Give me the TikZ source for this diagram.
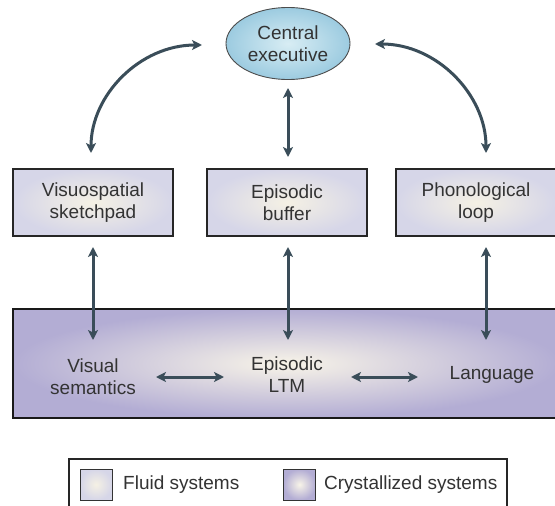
\documentclass[tikz,border=0pt]{standalone}
\usepackage{fontspec}
\setmainfont{Liberation Sans}
\usetikzlibrary{arrows.meta,shapes.geometric}
\definecolor{arrc}{HTML}{3A4D59}
\definecolor{txtc}{HTML}{333333}
\definecolor{fluidout}{HTML}{D6D6E8}
\definecolor{fluidin}{HTML}{F5F1E4}
\definecolor{crysout}{HTML}{B3ADD4}
\definecolor{crysin}{HTML}{F8F4E8}
\definecolor{ceout}{HTML}{9CCBE0}
\definecolor{cein}{HTML}{D8EDF4}
\tikzset{
  lbl/.style={text=txtc, font=\fontsize{19}{22}\selectfont, align=center},
  fluidbox/.style={lbl, draw=black!85, line width=1.4pt, shade, inner color=fluidin, outer color=fluidout,
    minimum width=160pt, minimum height=67pt, inner sep=0pt},
  crysbox/.style={draw=black!90, line width=2.2pt, shade, inner color=crysin, outer color=crysout,
    minimum width=547pt, minimum height=109pt, inner sep=0pt},
  cebox/.style={lbl, ellipse, draw=black!70, line width=0.9pt, shade, inner color=cein, outer color=ceout,
    minimum width=124pt, minimum height=72pt, inner sep=0pt},
  dbl/.style={arrc, line width=3pt, {Stealth[length=10pt,width=10pt,inset=2.5pt]}-{Stealth[length=10pt,width=10pt,inset=2.5pt]}},
  legsw/.style={draw=black!80, line width=1pt, shade, minimum width=32pt, minimum height=31pt, inner sep=0pt},
}
\begin{document}
\begin{tikzpicture}[x=1pt,y=-1pt]
\useasboundingbox (0,0) rectangle (555,506);
\clip (0,0) rectangle (555,506);
\fill[white] (0,0) rectangle (555,506);

% central executive
\node[cebox] (ce) at (288,43.5) {Central\\executive};

% fluid boxes
\node[fluidbox] (vs) at (93,202.5) {Visuospatial\\sketchpad};
\node[fluidbox] (eb) at (287,202.5) {Episodic\\buffer};
\node[fluidbox] (pl) at (476,202.5) {Phonological\\loop};

% crystallized box
\node[crysbox] (ltm) at (286.5,363.5) {};
\node[lbl] (vsem) at (93,377) {Visual\\semantics};
\node[lbl] (eltm) at (287,375) {Episodic\\LTM};
\node[lbl] (lang) at (492,375) {Language};

% arrow end points
\coordinate (c1) at (202,45);
\coordinate (c2) at (91,153);
\coordinate (c3) at (375,44);
\coordinate (c4) at (486,153);
\coordinate (m1) at (288,88);
\coordinate (m2) at (288,157);
\coordinate (u1) at (93,247);
\coordinate (d1) at (93,340);
\coordinate (u2) at (288,247);
\coordinate (d2) at (288,340);
\coordinate (u3) at (486,247);
\coordinate (d3) at (486,340);
\coordinate (h1) at (156,377);
\coordinate (h2) at (224,377);
\coordinate (h3) at (351,377);
\coordinate (h4) at (418,377);

% connectors
\draw[dbl] (c1) .. controls (140,45) and (91,95) .. (c2);
\draw[dbl] (c3) .. controls (437,44) and (486,95) .. (c4);
\draw[dbl] (m1) -- (m2);
\draw[dbl] (u1) -- (d1);
\draw[dbl] (u2) -- (d2);
\draw[dbl] (u3) -- (d3);
\draw[dbl] (h1) -- (h2);
\draw[dbl] (h3) -- (h4);

% legend
\draw[black!85, line width=1.5pt] (69,459) rectangle (507,530);
\node[legsw, inner color=fluidin, outer color=fluidout] (sw1) at (96,484.5) {};
\node[legsw, inner color=crysin, outer color=crysout] (sw2) at (299.5,484.5) {};
\node[lbl, anchor=west, inner sep=0pt] (lf) at (123,485) {Fluid systems};
\node[lbl, anchor=west, inner sep=0pt] (lc) at (324,485) {Crystallized systems};
\end{tikzpicture}
\end{document}
